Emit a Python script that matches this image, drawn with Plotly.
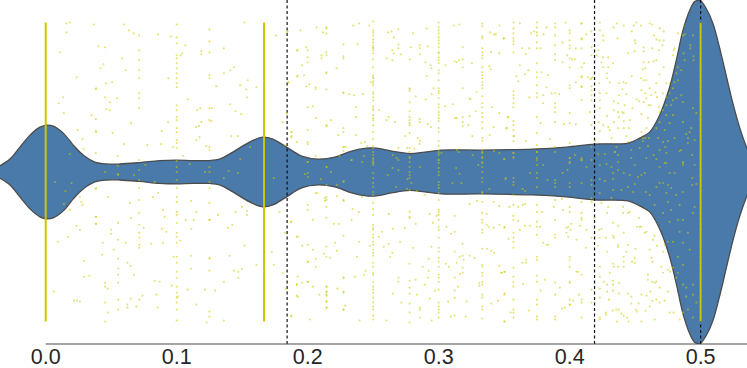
import plotly.graph_objects as go

# violin outline: value on the x axis and half width of the density
violin_x = [-.0349,-.0273,-.0197,-.0120,-.0044,.0007,.0057,.0134,.0210,.0286,.0375,.0464,.0565,.0718,.0870,.0997,.1124,.1251,.1327,.1429,.1556,.1658,.1734,.1827,.1954,.2081,.2208,.2335,.2449,.2525,.2640,.2779,.2894,.3021,.3326,.3722,.3976,.4192,.4446,.4535,.4611,.4687,.4763,.4814,.4865,.4916,.4954,.4979,.4997,.5043,.5094,.5144,.5195,.5246,.5297,.5347,.5360]
violin_hw = [6.3,13,25,37,45,47,46,39,27,17,10,8,8,9.5,11.5,12,11.5,11.5,13,20,30,35,33,26,16,13,15,21,24,24,21,18.5,20,22,22,23,25,28,29,34,40,57,85,112,142,162,171,172,172,164,149,125,97,69,45,26,22]

tick_vals = [0.0, 0.1, 0.2, 0.3, 0.4, 0.5]
tick_text = ["0.0", "0.1", "0.2", "0.3", "0.4", "0.5"]
threshold_lines = [0.1843, 0.4190, 0.5]

# columns so dense they read as a solid line: x value, jitter extent
solid_columns = [0.0, 1/6, 0.5]
solid_extent = [-150, 150]

# columns of points at one frequency
col_0714 = [137,122,112,102,94,79,74,64,12,2,-8,-16,-28,-41,-53,-61,-66,-73,-76,-128]
col_0385 = [84,40,-16,-45,-52]
col_0554 = [-3,-87,-97,-103,-111,-128,-138]
col_1000 = [148,135,129,117,114,109,104,99,94,89,85,67,62,55,52,44,40,32,29,24,11,5,0,-8,-16,-25,-30,-40,-43,-51,-61,-65,-71,-85,-91,-100,-106,-115,-121,-126,-131,-138,-149]
col_1250 = [143,131,120,97,94,64,52,25,5,0,-10,-16,-31,-48,-86,-99,-140,-145]
col_2000 = [122,115,110,65,42,30,28,10,10,-1,-33,-38,-73,-90,-110]
col_2143 = [145,144,139,120,117,100,99,83,47,5,-13,-25,-28,-35,-46,-75,-85,-115,-120,-123,-130,-136]
col_2273 = [128,116,114,80,79,44,40,25,21,-10,-28,-64,-106,-121,-138]
col_2500 = [151,142,140,137,133,130,127,125,124,122,119,113,105,97,95,94,91,89,87,80,78,75,72,66,64,62,57,54,52,47,40,33,26,24,17,12,9,20,14,10,7,-1,-6,-11,-15,-20,-23,-31,-37,-43,-53,-56,-58,-63,-66,-70,-73,-78,-81,-84,-91,-95,-101,-103,-110,-115,-118,-121,-126,-131,-135,-138,-144,-148]
col_2778 = [84,83,81,70,61,55,52,49,47,39,24,14,20,15,10,5,0,-3,-6,-18,-40,-45,-46,-92,-109,-116,-122,-132,-141,-151]
col_3000 = [150,145,142,139,135,132,129,125,120,119,115,112,109,102,99,92,84,81,79,74,68,65,60,57,54,51,44,40,31,26,21,17,12,9,19,12,4,0,-3,-10,-13,-16,-21,-28,-38,-40,-43,-48,-55,-58,-66,-76,-80,-86,-90,-95,-103,-106,-110,-118,-131,-135,-138,-141,-146]
col_3333 = [149,146,136,134,124,120,117,114,105,100,97,94,90,87,84,76,69,65,59,55,50,44,34,31,22,19,14,10,20,15,9,5,0,-6,-10,-20,-21,-30,-41,-48,-51,-58,-61,-77,-93,-95,-101,-104,-110,-113,-123,-126,-135,-138,-147]
col_3571 = [150,144,139,134,131,128,120,81,77,74,69,65,51,47,42,36,31,19,14,19,15,-6,-10,-13,-23,-33,-44,-48,-61,-66,-70,-76,-96,-105,-110,-115,-128,-138,-141,-146]
col_3750 = [150,145,140,137,130,124,109,100,95,87,79,75,55,39,27,20,14,20,12,7,-1,-6,-15,-33,-40,-50,-55,-63,-85,-88,-104,-110,-128,-133,-145,-148]
col_3889 = [149,145,137,127,118,112,79,69,65,60,50,25,20,-8,-11,-15,-28,-48,-63,-66,-111,-123,-145,-148]
col_4000 = [142,139,132,127,124,114,105,87,84,59,49,29,14,10,14,9,-11,-15,-35,-40,-85,-88,-95,-110,-111,-128,-133]
col_4091 = [149,134,133,105,95,86,72,14,12,-11,-30,-41,-46,-48,-103,-128,-131,-146]
col_4167 = [125,117,94,86,82,77,72,47,25,12,-8,-13,-26,-30,-66,-118,-131]

columns = [(.0714,col_0714),(.0385,col_0385),(.0554,col_0554),(.1,col_1000),(.125,col_1250),(.2,col_2000),(.2143,col_2143),(.2273,col_2273),(.25,col_2500),(.2778,col_2778),(.3,col_3000),(.3333,col_3333),(.3571,col_3571),(.375,col_3750),(.3889,col_3889),(.4,col_4000),(.4091,col_4091),(.4167,col_4167)]

# scattered points: frequency, jitter
points_low = [(.0159,149),(.0184,150),(.0367,148),(.0598,148),(.0637,142),(.0672,139),(.0159,140),(.0858,138),(.0954,136),(.1518,150),(.1759,137),(.0108,120),(.0403,126),(.0454,125),(.1043,119),(.1030,117),(.1066,127),(.1188,121),(.1188,118),(.1360,124),(.0583,114),(.0418,104),(.0441,108),(.0611,102),(.0235,95),(.0936,94),(.1360,99),(.1409,102),(.1439,105),(.1302,86),(.1485,87),(.1543,92),(.1531,83),(.1536,75),(.1609,85),(.0382,83),(.0461,89),(.0507,90),(.0134,75),(.0101,69),(.0454,75),(.0545,74),(.0489,70),(.0464,63),(.0489,62),(.0139,59),(.0349,57),(.0382,53),(.0652,49),(.1084,73),(.1157,62),(.1180,64),(.1269,64),(.1409,68),(.1449,61),(.1493,58),(.0934,50),(.1188,50),(.1170,46),(.1150,45),(.1264,51),(.0885,41),(.0245,42),(.0382,41),(.0510,39),(.1175,35),(.1150,32),(.1226,26),(.1251,22),(.1416,36),(.1467,36),(.0281,33),(.0598,28),(.0776,27),(.0880,28),(.0291,23),(.0972,25),(.0184,18),(.0382,19),(.0550,16),(.1048,16),(.0070,-10),(.0197,-11),(.0151,-19),(.0139,-32),(.0184,-38),(.0454,0),(.0550,-2),(.0550,6),(.0675,-3),(.0761,7),(.0832,-10),(.1099,8),(.1216,0),(.1396,1),(.1467,-1),(.1485,13),(.1360,-6),(.1561,25),(.1741,-6),(.1823,27),(.1873,40),(.1873,35),(.1810,50),(.1840,59),(.1853,90),(.1919,122),(.1919,96),(.1840,140),(.1785,-40),(.1873,-50),(.1828,-61),(.1917,-65),(.1810,-101),(.1917,-113),(.1917,-124),(.1873,-145),(.1835,-117),(.1726,-80),(.1741,-93),(.1609,-93),
(.0261,-25),(.0273,-30),(.0281,-33),(.0382,-17),(.0477,-25),(.0642,-31),(.0819,-25),(.0858,-21),(.1109,-29),(.1150,-40),(.1315,-43),(.1449,-40),(.1498,-35),(.1536,-39),(.1536,-43),(.1251,-48),(.1068,-48),(.1129,-48),(.1112,-57),(.0896,-38),(.0908,-45),(.0652,-46),(.0235,-54),(.0261,-58),(.0171,-65),(.0093,-70),(.0382,-45),(.0382,-52),(.0499,-58),(.0499,-62),(.0553,-51),(.0553,-68),(.0611,-71),(.0436,-71),(.0520,-78),(.0431,-83),(.0748,-56),(.0888,-57),(.0921,-60),(.0804,-72),(.0896,-71),(.1028,-69),(.0977,-85),(.1109,-84),(.1251,-87),(.1404,-84),(.1391,-56),(.1424,-53),(.1518,-74),(.1109,-97),(.1437,-99),(.1470,-100),(.1498,-97),(.1470,-106),(.1360,-110),(.0291,-89),(.0294,-105),(.0332,-104),(.0062,-120),(.0217,-129),(.0238,-129),(.0261,-130),(.0454,-111),(.0454,-115),(.0474,-117),(.0454,-131),(.0474,-141),(.0454,-150),(.0624,-91),(.0649,-94),(.0675,-103),(.0624,-133),(.0624,-136),(.0649,-127),(.0692,-135),(.0739,-124),(.0832,-109),(.0870,-110),(.0845,-123),(.0855,-136),(.0962,-114),(.1007,-125),(.1084,-118),(.1150,-133),(.1216,-118),(.1294,-119),(.1228,-151),(.1360,-149)]

points_mid_top = [(.1847,141),(.1946,142),(.2068,145),(.2119,140),(.2348,147),(.2393,149),(.2470,147),(.2614,140),(.2640,141),(.2657,135),(.2693,143),(.2805,139),(.2909,144),(.3115,147),(.3158,148),(.3394,140),(.3422,138),(.3437,138),(.3463,147),(.3496,134),(.1924,122),(.1987,125),(.2106,117),(.2106,114),(.2381,128),(.2602,114),(.2647,122),(.2657,119),(.2693,128),(.2693,124),(.2711,118),(.2787,125),(.2856,127),(.2856,124),(.2856,118),(.2917,126),(.2647,112),(.2779,113),(.2899,110),(.2940,107),(.2945,104),(.3051,107),(.3122,111),(.3138,110),(.3155,112),(.3183,113),(.3183,125),(.3183,105),(.3254,109),(.3399,120),(.3463,119),(.3387,106),(.3399,103),(.1957,107),(.1924,96),(.1972,97),(.2221,104),(.1852,90),(.1990,86),(.2012,88),(.2061,85),(.2061,83),(.2482,90),(.2909,96),(.2962,84),(.2947,78),(.2825,76),(.2901,73),(.3183,84),(.3236,74),(.3244,73),(.3290,80),(.2317,78),(.2353,77),(.2421,78),(.2368,65),(.2546,62),(.3049,66),(.3107,68),(.3283,61),(.3409,65),(.3463,59),(.3529,55),(.2040,66),(.2063,54),(.2368,55),(.2178,52),(.2145,46),(.2602,52),(.2619,55),(.2668,50),(.2856,53),(.2856,50),(.2917,48),(.2940,45),(.3125,54),(.3138,54),(.3183,55),(.3183,50),(.3183,46),(.3227,47),(.3236,56),(.3420,45),(.3519,44),(.3389,37),(.3257,36),(.2744,36),(.2840,34),(.2858,31),(.2853,28),(.2759,24),(.2693,24),(.2815,23),(.2409,29),(.2437,30),(.2455,26),(.2368,37),(.2233,37),(.1878,40),(.1878,36),(.1916,30),(.2277,25),(.2292,25),(.2061,16),(.2244,16),(.2335,12),(.2416,10),(.2429,16),(.2650,17),(.2678,14),(.2693,12),(.3021,19),(.3140,22),(.3153,20),(.3259,17),(.3422,21),(.3463,19),(.3498,13),(.1840,59)]

points_mid_bottom = [(.1979,-2),(.2002,-5),(.2099,-7),(.2178,0),(.2145,5),(.2274,-9),(.2223,-13),(.2335,12),(.2612,-3),(.2647,4),(.2693,2),(.2856,5),(.2675,-15),(.2762,-7),(.2792,-11),(.2759,-17),(.2833,-19),(.2894,-23),(.3133,4),(.3160,-2),(.3105,-11),(.3173,-11),(.3303,7),(.3387,-17),(.3509,-7),(.2061,-21),(.2073,-21),(.2132,-26),(.2132,-29),(.2223,-24),(.2414,-25),(.2274,-29),(.2343,-37),(.2391,-40),(.2335,-48),(.2040,-48),(.2200,-52),(.2238,-52),(.1875,-50),(.2619,-42),(.2650,-57),(.2741,-56),(.2569,-60),(.2543,-65),(.2825,-52),(.2932,-42),(.2957,-51),(.2985,-44),(.3122,-44),(.3237,-32),(.3292,-29),(.3366,-42),(.3420,-30),(.3463,-34),(.3366,-53),(.3381,-55),(.3420,-56),(.3463,-53),(.3501,-56),(.3059,-55),(.3122,-60),(.3094,-62),(.3534,-67),(.1924,-65),(.1959,-74),(.2040,-78),(.2061,-87),(.2124,-82),(.2172,-86),(.2210,-71),(.2223,-79),(.2376,-85),(.2391,-70),(.2475,-74),(.2581,-75),(.2619,-72),(.2630,-85),(.2647,-81),(.2706,-70),(.2805,-76),(.2924,-87),(.2945,-75),(.3122,-80),(.3160,-85),(.3183,-72),(.3183,-84),(.3191,-88),(.3236,-84),(.3275,-86),(.3138,-91),(.3056,-92),(.3077,-95),(.2878,-95),(.2924,-99),(.3183,-96),(.3183,-101),(.3463,-94),(.3503,-100),(.3478,-101),(.3371,-77),(.3402,-79),(.3422,-81),(.2061,-95),(.2442,-99),(.2431,-103),(.2360,-105),(.2274,-106),(.2002,-90),(.1924,-105),(.1918,-113),(.1957,-111),(.2002,-110),(.2040,-115),(.2145,-115),(.2228,-117),(.2274,-120),(.2089,-123),(.1924,-125),(.2145,-120),(.2145,-124),(.2145,-130),(.2145,-136),(.2287,-134),(.2274,-138),(.1875,-144),(.2018,-148),(.2396,-149),(.2602,-149),(.2650,-122),(.2716,-131),(.2693,-106),(.2693,-110),(.2825,-108),(.2917,-106),(.2894,-113),(.2833,-123),(.2932,-127),(.2973,-119),(.2856,-136),(.2856,-138),(.2856,-146),(.2947,-149),(.3072,-130),(.3122,-119),(.3122,-126),(.3122,-106),(.3163,-102),(.3148,-115),(.3214,-130),(.3094,-145),(.3122,-144),(.3206,-145),(.3310,-111),(.3310,-114),(.3402,-132),(.3453,-129),(.3501,-123),(.3501,-150)]

points_high_top = [(.3498,134),(.3620,149),(.3704,139),(.3730,141),(.3801,138),(.3824,145),(.3968,150),(.4090,149),(.4166,141),(.4128,138),(.4230,150),(.4230,142),(.4255,137),(.4258,132),(.4334,145),(.4360,149),(.4413,147),(.4474,141),(.4489,147),(.4509,150),(.4545,147),(.4611,149),(.4631,148),(.4687,144),(.4718,141),(.4644,137),(.4662,133),(.4687,132),(.4718,132),(.4365,134),(.4497,132),(.4502,129),(.4446,119),(.4497,121),(.4565,125),(.4565,121),(.4631,124),(.4708,127),(.4682,122),(.4794,122),(.4789,117),(.4870,147),(.4827,139),(.4801,124),(.4865,137),(.3638,124),(.3666,118),(.3692,124),(.3778,124),(.3946,130),(.4047,124),(.4090,124),(.3981,117),(.3946,110),(.4019,113),(.4040,113),(.4111,109),(.4220,122),(.4205,117),(.4255,115),(.4294,115),(.4243,110),(.4255,105),(.4294,105),(.4332,109),(.4565,110),(.4603,110),(.4641,111),(.4662,112),(.4718,105),(.4560,103),(.4578,104),(.3620,107),(.3595,96),(.3608,91),(.3658,98),(.3684,102),(.3786,100),(.3836,97),(.3824,85),(.3862,79),(.3920,78),(.3692,75),(.3798,77),(.3798,69),(.4047,90),(.4090,85),(.4141,95),(.4090,96),(.4174,95),(.4159,93),(.4225,89),(.4286,99),(.4286,94),(.4306,90),(.4377,89),(.4413,90),(.4433,89),(.4403,83),(.4474,96),(.4545,94),(.4565,92),(.4586,92),(.4611,84),(.4662,89),(.4687,98),(.4738,89),(.4548,82),(.4578,79),(.4624,77),(.4656,80),(.4667,75),(.4586,74),(.4512,73),(.4530,71),(.4565,70),(.4603,67),(.4618,67),(.4712,79),(.4682,65),(.4687,60),(.4548,58),(.4230,72),(.4230,79),(.4281,79),(.4337,71),(.4377,77),(.4433,78),(.4370,69),(.4421,67),(.4479,64),(.4337,62),(.4370,60),(.4403,60),(.4413,59),(.4154,60),(.4230,64),(.4286,56),(.4377,55),(.4459,52),(.4413,51),(.4222,50),(.4255,47),(.4294,45),(.4337,50),(.4370,44),(.4413,44),(.4454,44),(.4598,54),(.4548,40),(.4586,44),(.4433,36),(.4230,41),(.4306,42),(.4319,34),(.3532,55),(.3519,44),(.3778,49),(.3956,48),(.4047,48),(.3849,33),(.3666,31),(.3575,36),(.4192,31),(.4446,30),(.4560,34)]

points_high_inside = [(.4870,119),(.4878,112),(.4827,105),(.4852,102),(.4814,99),(.4827,92),(.4801,90),(.4946,116),(.4946,112),(.4921,127),(.4921,124),(.4878,138),(.4941,137),(.4763,89),(.4789,84),(.4763,79),(.4738,75),(.4852,77),(.4814,74),(.4789,72),(.4738,67),(.4776,67),(.4712,62),(.4865,70),(.4941,64),(.4967,59),(.4738,57),(.4789,57),(.4763,49),(.4687,50),(.4865,50),(.4916,40),(.4890,38),(.4929,44),(.4662,44),(.4725,42),(.4606,34),(.4675,34),(.4578,34),(.4560,31),(.4751,31),(.4801,34),(.4903,34),(.4954,32),(.4903,29),(.4713,30),(.4730,25),(.4598,26),(.4535,24),(.4471,22),(.4345,20),(.4357,25),(.4268,18),(.4217,18),(.4370,17),(.4471,14),(.4586,14),(.4641,17),(.4687,22),(.4738,19),(.4852,22),(.4840,21),(.4936,17),(.4662,13),(.4738,9),(.4865,9),
(.3504,13),(.3697,-1),(.3514,-6),(.3641,-17),(.3659,-19),(.3798,7),(.3946,-1),(.3984,2),(.3831,-8),(.4040,17),(.4090,12),(.4128,5),(.4230,7),(.4281,8),(.4319,5),(.4370,10),(.4370,2),(.4344,20),(.4497,7),(.4459,-3),(.4230,-7),(.4268,-9),(.4332,-1),(.4332,-7),(.4413,-1),(.4522,-5),(.4548,-3),(.4573,-1),(.4497,-12),(.4446,-15),(.4395,-18),(.4332,-18),(.4230,-21),(.4484,-20),(.4581,-20),(.4611,-23),(.4662,-15),(.4687,-11),(.4713,-11),(.4751,-13),(.4776,-16),(.4738,-21),(.4649,-33),(.4687,5),(.4725,9),(.4763,-1),(.4801,-1),(.4865,7),(.4865,10),(.4954,7),(.4936,-6),(.4967,-12),(.4936,-13),(.4865,-20),(.4814,-23),(.4840,-33),(.4751,-30),(.4776,-38),(.4713,-41),(.4954,-35),(.4941,-41),(.4865,-48),(.4827,-48),(.4763,-50),(.4751,-70),(.4789,-70),(.4840,-60),(.4903,-61),(.4865,-71),(.4916,-78),(.4725,-73),(.4827,-85),(.4865,-93),(.4789,-96),(.4827,-101),(.4814,-106),(.4865,-113),(.4941,-113),(.4890,-116),(.4941,-123),(.4890,-125),(.4967,-131),(.4903,-138),(.4865,-141),(.4941,-146)]

points_high_bottom = [(.3539,-35),(.3608,-35),(.3641,-33),(.3659,-32),(.3791,-40),(.3879,-35),(.3951,-38),(.3940,-27),(.3608,-49),(.3620,-58),(.3659,-54),(.3697,-54),(.3773,-55),(.3976,-56),(.3989,-55),(.4014,-52),(.3976,-61),(.3989,-65),(.4006,-58),(.4052,-68),(.4078,-54),(.4128,-58),(.3798,-71),(.3824,-73),(.3836,-73),(.4123,-76),(.3504,-55),(.3504,-100),(.3481,-101),(.3641,-91),(.3666,-91),(.3666,-88),(.3811,-108),(.3778,-119),(.3646,-112),(.3925,-116),(.4052,-100),(.4065,-100),(.4070,-123),(.4027,-129),(.4001,-133),(.3963,-136),(.3943,-137),(.3504,-122),(.3504,-150),(.3549,-141),(.3689,-139),(.4225,-58),(.4243,-57),(.4230,-66),(.4276,-66),(.4217,-74),(.4332,-51),(.4370,-54),(.4413,-61),(.4332,-64),(.4337,-66),(.4370,-73),(.4370,-75),(.4446,-73),(.4502,-77),(.4433,-80),(.4286,-80),(.4413,-85),(.4413,-90),(.4497,-86),(.4476,-90),(.4497,-91),(.4332,-92),(.4337,-95),(.4370,-95),(.4413,-95),(.4230,-95),(.4306,-101),(.4230,-105),(.4260,-110),(.4332,-109),(.4377,-111),(.4286,-113),(.4332,-113),(.4230,-117),(.4286,-120),(.4377,-122),(.4332,-119),(.4230,-126),(.4301,-128),(.4357,-138),(.4375,-138),(.4230,-146),(.4230,-148),(.4276,-141),(.4276,-143),(.4327,-139),(.4395,-142),(.4362,-150),(.4413,-144),(.4438,-146),(.4451,-150),(.4446,-122),(.4471,-125),(.4471,-132),(.4527,-132),(.4504,-138),(.4514,-140),(.4548,-123),(.4586,-124),(.4616,-120),(.4578,-139),(.4611,-135),(.4631,-129),(.4662,-128),(.4687,-131),(.4687,-116),(.4725,-129),(.4751,-120),(.4763,-141),(.4794,-141),(.4840,-148),(.4649,-148),(.4548,-150),(.4514,-55),(.4535,-55),(.4548,-55),(.4573,-61),(.4586,-60),(.4649,-64),(.4636,-68),(.4611,-78),(.4667,-74),(.4713,-80),(.4700,-95),(.4624,-86),(.4631,-90),(.4598,-103),(.4598,-108),(.4631,-110),(.4649,-111),(.4662,-110),(.4751,-98),(.4713,-101),(.4768,-100),(.4459,-40),(.4530,-46),(.4408,-35),(.4446,-41),(.4294,-35),(.4286,-41),(.4408,-41),(.4243,-31),(.4192,-46),(.4319,-26)]

all_x, all_y = [], []
for xv, ys in columns:
    all_x += [xv] * len(ys)
    all_y += ys
for group in (points_low, points_mid_top, points_mid_bottom, points_high_top, points_high_inside, points_high_bottom):
    all_x += [p[0] for p in group]
    all_y += [p[1] for p in group]

fig = go.Figure()
fig.add_trace(go.Scatter(
    x=violin_x + violin_x[::-1],
    y=violin_hw + [-h for h in violin_hw[::-1]],
    mode="lines", fill="toself", fillcolor="#4a7aa9",
    line=dict(color="#4c4c4c", width=1.3, shape="spline", smoothing=1.0),
    hoverinfo="skip", showlegend=False))
for xv in threshold_lines:
    fig.add_trace(go.Scatter(x=[xv, xv], y=[-172.5, 172.5], mode="lines",
                             line=dict(color="#111111", width=1.2, dash="3px,2.5px"),
                             hoverinfo="skip", showlegend=False))
for xv in solid_columns:
    fig.add_trace(go.Scatter(x=[xv, xv], y=solid_extent, mode="lines",
                             line=dict(color="#c9c800", width=2),
                             hoverinfo="skip", showlegend=False))
fig.add_trace(go.Scatter(x=all_x, y=all_y, mode="markers",
                         marker=dict(color="#cccc00", size=2.1, opacity=0.55, line=dict(width=0)),
                         hoverinfo="skip", showlegend=False))

fig.add_shape(type="line", xref="x", yref="paper", x0=0, x1=0.54, y0=0, y1=0,
              line=dict(color="#4c4c4c", width=1.2), layer="above")

fig.update_layout(
    width=747, height=368,
    margin=dict(l=0, r=0, t=0, b=24, pad=0),
    paper_bgcolor="white", plot_bgcolor="white",
    showlegend=False,
    xaxis=dict(range=[-0.0349, 0.5354], tickvals=tick_vals, ticktext=tick_text,
               showgrid=False, zeroline=False, showline=False, ticks="",
               automargin=False, ticklabelstandoff=-3,
               tickfont=dict(family="Liberation Sans", size=21.5, color="#262626")),
    yaxis=dict(range=[-172.5, 172.5], visible=False, showgrid=False, zeroline=False),
)
fig.write_html("out.html", config=dict(displayModeBar=False),
               post_script="document.body.style.margin='0';")
